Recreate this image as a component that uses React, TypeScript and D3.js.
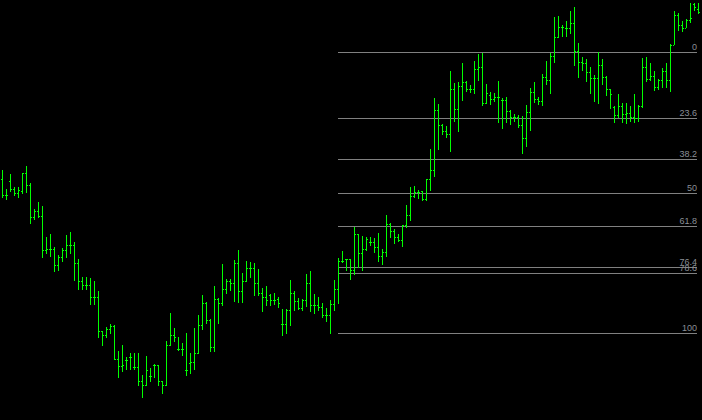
import { scaleLinear } from "d3";

// OHLC prices, one entry per bar (oldest first)
const highs = [
  250, 231, 246, 233, 233, 247, 254, 237, 211, 218, 214, 183, 186, 173, 165, 172, 185, 188, 178, 161,
  143, 143, 142, 139, 129, 89, 93, 96, 95, 69, 75, 63, 67, 67, 67, 45, 64, 52, 56, 55,
  39, 79, 107, 92, 83, 77, 87, 67, 92, 105, 125, 118, 101, 134, 122, 156, 141, 141, 160, 170,
  147, 159, 158, 157, 151, 132, 134, 126, 127, 123, 111, 111, 140, 129, 122, 121, 146, 149, 126, 123,
  117, 112, 120, 140, 162, 169, 161, 161, 193, 186, 184, 183, 183, 182, 187, 171, 205, 197, 191, 186,
  195, 215, 233, 234, 230, 229, 241, 271, 322, 316, 296, 294, 349, 337, 338, 357, 339, 335, 359, 366,
  367, 336, 328, 327, 339, 322, 323, 310, 306, 305, 304, 315, 332, 338, 323, 346, 359, 367, 403, 404,
  395, 399, 409, 413, 377, 363, 361, 353, 345, 368, 361, 344, 331, 314, 326, 317, 317, 314, 326, 315,
  362, 363, 357, 349, 341, 352, 357, 376, 409, 407, 399, 401, 417, 417, 417,
];
const lows = [
  223, 221, 229, 225, 223, 227, 228, 197, 201, 203, 163, 167, 164, 149, 150, 159, 163, 167, 140, 131,
  131, 131, 116, 116, 83, 75, 83, 87, 61, 43, 49, 51, 51, 51, 35, 23, 35, 39, 43, 35,
  27, 35, 75, 79, 70, 65, 45, 47, 51, 67, 91, 97, 69, 69, 97, 115, 127, 130, 119, 118,
  118, 139, 143, 125, 125, 109, 115, 115, 116, 113, 85, 87, 95, 110, 111, 110, 114, 109, 107, 110,
  103, 99, 87, 110, 117, 158, 150, 141, 146, 153, 150, 170, 175, 168, 159, 156, 164, 183, 177, 179,
  174, 193, 200, 223, 222, 220, 220, 230, 244, 271, 286, 283, 269, 299, 289, 320, 329, 328, 327, 340,
  315, 317, 316, 319, 298, 292, 298, 296, 299, 293, 267, 274, 290, 318, 316, 315, 336, 327, 358, 383,
  384, 384, 387, 355, 343, 350, 339, 327, 319, 317, 336, 325, 312, 298, 303, 298, 297, 299, 298, 299,
  313, 339, 340, 330, 331, 333, 333, 329, 376, 390, 389, 393, 398, 410, 407,
];
const opens = [
  241, 225, 239, 231, 227, 229, 247, 235, 203, 209, 204, 170, 171, 171, 155, 163, 170, 175, 175, 157,
  139, 135, 135, 123, 123, 89, 85, 91, 94, 61, 54, 60, 63, 53, 53, 39, 35, 44, 55, 55,
  39, 35, 75, 85, 71, 71, 50, 57, 58, 67, 95, 117, 100, 73, 121, 117, 131, 139, 137, 157,
  129, 139, 152, 152, 137, 127, 123, 125, 120, 121, 96, 96, 110, 127, 119, 112, 120, 137, 115, 115,
  113, 105, 105, 116, 131, 159, 161, 161, 150, 186, 167, 171, 178, 178, 173, 164, 168, 196, 189, 183,
  180, 195, 205, 224, 228, 229, 221, 241, 250, 310, 295, 289, 286, 331, 311, 334, 338, 331, 331, 351,
  353, 317, 325, 321, 323, 320, 320, 309, 303, 303, 295, 282, 308, 328, 321, 319, 343, 340, 364, 383,
  393, 392, 392, 397, 369, 358, 357, 348, 342, 342, 355, 343, 331, 313, 305, 314, 306, 307, 303, 302,
  314, 353, 341, 344, 333, 340, 349, 340, 375, 405, 395, 392, 400, 416, 411,
];
const closes = [
  225, 225, 231, 227, 230, 247, 235, 203, 209, 204, 170, 171, 171, 155, 163, 170, 175, 175, 157, 139,
  135, 135, 123, 123, 89, 85, 91, 94, 61, 54, 55, 60, 63, 53, 39, 35, 50, 44, 55, 39,
  35, 75, 85, 83, 71, 71, 50, 58, 67, 95, 117, 100, 73, 121, 117, 131, 139, 137, 157, 129,
  139, 152, 152, 137, 127, 123, 120, 120, 120, 117, 96, 110, 127, 119, 112, 120, 137, 115, 115, 113,
  105, 105, 116, 131, 159, 159, 161, 150, 186, 167, 171, 181, 178, 173, 164, 168, 196, 189, 183, 180,
  195, 205, 224, 228, 228, 221, 241, 250, 310, 295, 289, 286, 331, 311, 334, 338, 331, 331, 351, 353,
  317, 327, 321, 323, 323, 320, 309, 303, 303, 295, 282, 308, 328, 321, 319, 343, 340, 364, 383, 393,
  393, 392, 397, 369, 358, 357, 348, 342, 342, 355, 343, 331, 326, 305, 314, 306, 307, 303, 302, 314,
  353, 341, 344, 333, 340, 349, 340, 375, 405, 395, 392, 400, 402, 413, 408,
];

// Fibonacci retracement
const fibLevels = [0, 23.6, 38.2, 50, 61.8, 76.4, 78.6, 100];
const fibHigh = 368;
const fibLow = 87;
const fibStartBar = 84;

const width = 702;
const height = 420;
const green = "#00ff00";
const fibColor = "#808080";
const fibText = "#8a8f96";

export default function App() {
  const n = highs.length;
  const x = scaleLinear().domain([0, n - 1]).range([2, 698]);
  const y = scaleLinear().domain([0, 420]).range([height, 0]);
  const px = (v: number) => Math.round(y(v));
  const fibRight = width - 5;

  return (
    <svg
      width={width}
      height={height}
      style={{ display: "block", position: "absolute", left: 0, top: 0, background: "#000" }}
      shapeRendering="crispEdges"
    >
      <rect width={width} height={height} fill="#000" />
      <g>
        {fibLevels.map((lv) => {
          const py = px(fibHigh - (lv / 100) * (fibHigh - fibLow));
          return (
            <g key={lv}>
              <line
                x1={x(fibStartBar)}
                x2={fibRight}
                y1={py + 0.5}
                y2={py + 0.5}
                stroke={fibColor}
                strokeWidth={1}
              />
              <text
                x={fibRight}
                y={py - 2}
                textAnchor="end"
                fill={fibText}
                fontSize={9}
                fontFamily="'Liberation Sans', Arial, sans-serif"
                shapeRendering="auto"
              >
                {String(lv)}
              </text>
            </g>
          );
        })}
      </g>
      <g fill={green}>
        {highs.map((h, i) => {
          const bx = Math.round(x(i));
          const top = px(h);
          const bot = px(lows[i]);
          return (
            <g key={i}>
              <rect x={bx} y={top} width={1} height={bot - top + 1} />
              <rect x={bx - 1} y={px(opens[i])} width={1} height={1} />
              <rect x={bx + 1} y={px(closes[i])} width={1} height={1} />
            </g>
          );
        })}
      </g>
    </svg>
  );
}
